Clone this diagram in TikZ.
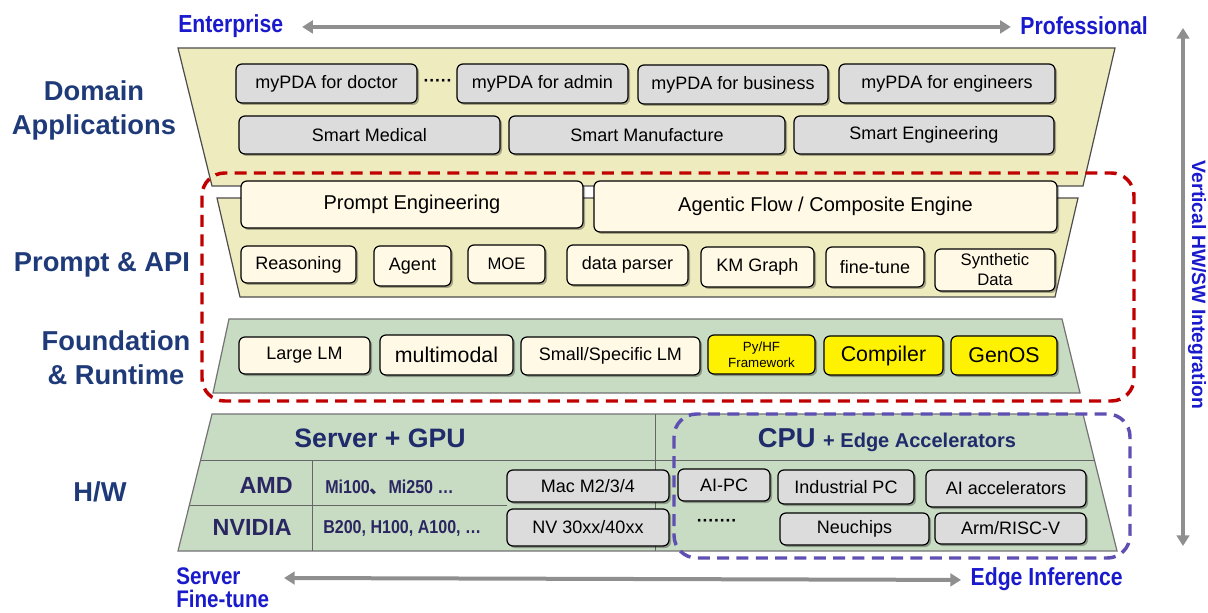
\documentclass[tikz,border=0pt]{standalone}
\usepackage{fontspec}
\setmainfont{Liberation Sans}
\newfontfamily\narrowf[FakeStretch=0.86]{Liberation Sans}
\newfontfamily\cjk{Noto Sans CJK SC}
\usetikzlibrary{arrows.meta,shadows}
\definecolor{khaki}{HTML}{EEEBBF}
\definecolor{sage}{HTML}{C8DBC3}
\definecolor{boxgray}{HTML}{DCDCDC}
\definecolor{cream}{HTML}{FFF9E5}
\definecolor{navy}{HTML}{1F3A78}
\definecolor{hwnavy}{HTML}{1F2B6B}
\definecolor{vendor}{HTML}{2A2661}
\definecolor{brightblue}{HTML}{1A1ACD}
\definecolor{dred}{HTML}{C00000}
\definecolor{dpurple}{HTML}{5E4FB3}
\definecolor{arrowgray}{HTML}{8F8F8F}
\newcommand\fs[2]{\fontsize{#1}{#2}\selectfont}
\newcommand\mybox[7]{\node[#1, minimum width={(#5-#3)*0.75pt}, minimum height={(#6-#4)*0.75pt}] (#2) at ({(#3+#5)/2},{(#4+#6)/2}) {#7};}
\tikzset{
  basebox/.style={draw=black, line width=0.9pt, rounded corners=4.5pt, inner sep=0pt, align=center,
    drop shadow={shadow xshift=1.5pt, shadow yshift=-1.5pt, fill=black, opacity=0.3}, font=\fs{13.5}{14}},
  gbox/.style={basebox, fill=boxgray},
  cbox/.style={basebox, fill=cream},
  ybox/.style={basebox, fill=yellow},
  layerlab/.style={text=navy, font=\bfseries\fs{20.5}{25.5}, align=center, inner sep=0pt},
  bluelab/.style={text=brightblue, font=\narrowf\bfseries\fs{18.5}{18}, inner sep=0pt},
  garrow/.style={draw=arrowgray, line width=3pt, {Triangle[length=8pt,width=9.5pt]}-{Triangle[length=8pt,width=9.5pt]}},
  trapY/.style={fill=khaki, draw=black!70, line width=0.9pt},
  trapG/.style={fill=sage, draw=black!55, line width=0.9pt},
  hwline/.style={draw=black!60, line width=0.7pt},
  dotrow/.style={font=\bfseries\fs{13}{13}, inner sep=0pt},
  reddash/.style={draw=dred, line width=2.6pt, dash pattern=on 9pt off 5.5pt, rounded corners=17pt},
  purpdash/.style={draw=dpurple, line width=2.6pt, dash pattern=on 9pt off 5.5pt, rounded corners=17pt},
}
\begin{document}
\begin{tikzpicture}[x=0.75pt,y=-0.75pt]
\useasboundingbox (0,0) rectangle (1208,613);

% ---------- top and side arrows ----------
\node[bluelab, anchor=west] (ent) at (178,26) {Enterprise};
\node[bluelab, anchor=east] (pro) at (1148,26) {Professional};
\draw[garrow] ([xshift=14pt,yshift=-0.7pt]ent.east) -- ([xshift=-7pt,yshift=-0.7pt]pro.west);

\coordinate (vt) at (1183,28);
\coordinate (vb) at (1183,546);
\draw[garrow] (vt) -- (vb);
\node[text=brightblue, font=\bfseries\fs{14.5}{15}, rotate=-90, inner sep=0pt] (vert) at (1197,285) {Vertical HW/SW Integration};

% ---------- layer shapes ----------
\path[trapY] (178,48) -- (1115,48) -- (1083,186) -- (212,186) -- cycle;
\path[trapY] (217,198) -- (1078,198) -- (1055,297) -- (240,297) -- cycle;
\path[trapG] (229,319) -- (1062,319) -- (1080,393) -- (213,393) -- cycle;
\path[trapG] (212,414) -- (1083,414) -- (1117,551) -- (178,551) -- cycle;

% H/W inner grid
\draw[hwline] (201,460) -- (1095,460);
\draw[hwline] (655,414) -- (655,551);
\draw[hwline] (312,460) -- (312,551);
\draw[hwline] (190,505) -- (507,505);

% ---------- dashed groups ----------
\draw[reddash] (202,173) rectangle (1134,401);
\draw[purpdash] (674,414) rectangle (1130,558);

% ---------- layer labels ----------
\node[layerlab] (dom) at (94,110) {Domain\\Applications};
\node[layerlab] (pa) at (102,265) {Prompt \& API};
\node[layerlab] (fr) at (116,358) {Foundation\\\& Runtime};
\node[layerlab] (hw) at (100,492) {H/W};

% ---------- Domain applications ----------
\mybox{gbox}{doc}{236}{64}{417}{103}{myPDA for doctor}
\node[dotrow] (dots1) at (438,83) {·····};
\mybox{gbox}{adm}{457}{64}{628}{103}{myPDA for admin}
\mybox{gbox}{bus}{638}{65}{828}{104}{myPDA for business}
\mybox{gbox}{eng}{839}{64}{1055}{103}{myPDA for engineers}
\mybox{gbox}{smed}{239}{116}{500}{154}{Smart Medical}
\mybox{gbox}{sman}{509}{116}{785}{154}{Smart Manufacture}
\mybox{gbox}{seng}{794}{116}{1054}{154}{Smart Engineering}

% ---------- Prompt & API ----------
\mybox{cbox,font=\fs{15}{16}}{pe}{241}{181}{583}{228}{Prompt Engineering}
\mybox{cbox,font=\fs{15}{16}}{af}{594}{181}{1057}{232}{Agentic Flow / Composite Engine}
\mybox{cbox}{rea}{241}{246}{356}{283}{Reasoning}
\mybox{cbox}{agt}{374}{246}{451}{286}{Agent}
\mybox{cbox,font=\fs{12.5}{13}}{moe}{468}{245}{545}{283}{MOE}
\mybox{cbox}{dp}{567}{245}{688}{285}{data parser}
\mybox{cbox}{km}{701}{247}{814}{287}{KM Graph}
\mybox{cbox}{ft}{826}{247}{924}{287}{fine-tune}
\mybox{cbox,font=\fs{12.5}{15}}{syn}{935}{249}{1055}{291}{Synthetic\\Data}

% ---------- Foundation & Runtime ----------
\mybox{cbox}{llm}{239}{337}{370}{374}{Large LM}
\mybox{cbox,font=\fs{16}{16}}{mm}{380}{335}{513}{375}{multimodal}
\mybox{cbox}{slm}{521}{337}{700}{375}{Small/Specific LM}
\mybox{ybox,font=\fs{10}{12}}{pyhf}{708}{335}{815}{374}{Py/HF\\Framework}
\mybox{ybox,font=\fs{16}{16}}{comp}{824}{336}{943}{375}{Compiler}
\mybox{ybox,font=\fs{16}{16}}{gos}{951}{336}{1057}{375}{GenOS}

% ---------- H/W ----------
\node[text=hwnavy, font=\bfseries\fs{20}{20}, inner sep=0pt] (sg) at (380,438) {Server + GPU};
\node[text=hwnavy, font=\bfseries, inner sep=0pt] (cpu) at (887,440) {\fs{20.5}{20}CPU \fs{15}{15}+ Edge Accelerators};
\node[text=vendor, font=\bfseries\fs{17.5}{18}, anchor=east, inner sep=0pt] (amd) at (293,485) {AMD};
\node[text=vendor, font=\bfseries\fs{17.5}{18}, anchor=east, inner sep=0pt] (nv) at (292,527) {NVIDIA};
\node[text=vendor, font=\narrowf\bfseries\fs{14}{14}, anchor=west, inner sep=0pt] (mi) at (325,487) {Mi100{\cjk 、}Mi250 \dots};
\node[text=vendor, font=\narrowf\bfseries\fs{14}{14}, anchor=west, inner sep=0pt] (bh) at (323,528) {B200, H100, A100, \dots};
\mybox{gbox}{mac}{507}{470}{669}{502}{Mac M2/3/4}
\mybox{gbox}{nvb}{507}{509}{669}{546}{NV 30xx/40xx}
\mybox{gbox}{aipc}{678}{469}{770}{501}{AI-PC}
\mybox{gbox}{ipc}{778}{470}{914}{504}{Industrial PC}
\mybox{gbox}{aiacc}{926}{470}{1086}{507}{AI accelerators}
\node[dotrow] (dots2) at (717,523) {·······};
\mybox{gbox}{neu}{780}{513}{929}{545}{Neuchips}
\mybox{gbox}{arm}{935}{513}{1086}{544}{Arm/RISC-V}

% ---------- bottom arrow ----------
\node[bluelab, anchor=west, align=left, font=\narrowf\bfseries\fs{18}{17.5}] (srv) at (176,588) {Server\\Fine-tune};
\node[bluelab, anchor=east] (edge) at (1123,579) {Edge Inference};
\coordinate (bl) at (284,578);
\draw[garrow] (bl) -- ([xshift=-7pt,yshift=-0.7pt]edge.west);
\end{tikzpicture}
\end{document}
